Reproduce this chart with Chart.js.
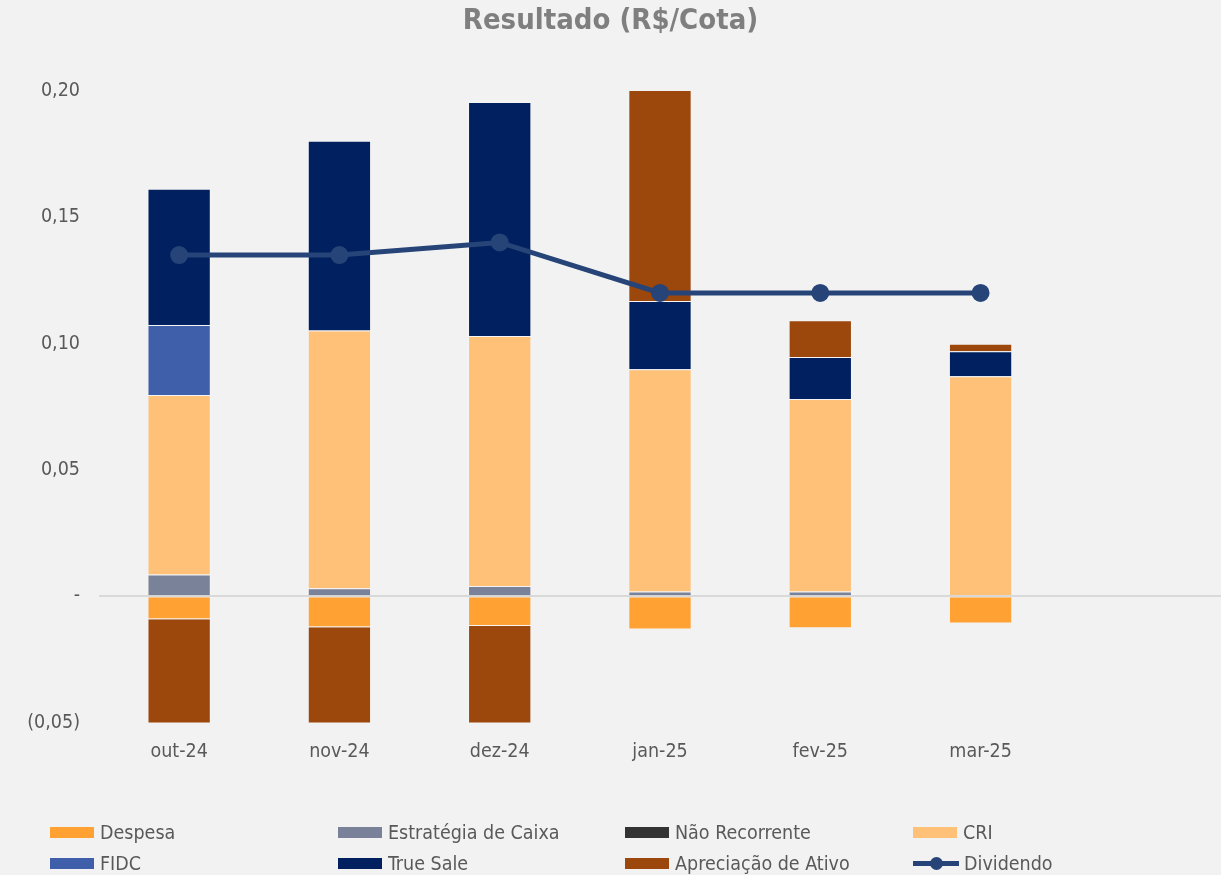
<!DOCTYPE html>
<html>
<head>
<meta charset="utf-8">
<script src="https://cdn.jsdelivr.net/npm/chart.js@4/dist/chart.umd.min.js"></script>
<style>
  body { margin: 0; background: #F2F2F2; }
  #box { position: relative; width: 1221px; height: 875px; }
  .leg { position: absolute; display: flex; align-items: center; font-family: "DejaVu Sans Condensed", "Liberation Sans Narrow", sans-serif; font-size: 19.5px; color: #595959; white-space: nowrap; }
  .sw { width: 44px; height: 11px; margin-right: 6px; }
  .ln { position: relative; width: 46px; height: 5px; margin-right: 5px; }
  .ln i { position: absolute; left: 17px; top: -4px; width: 13px; height: 13px; border-radius: 50%; }
</style>
</head>
<body>
<div id="box">
  <canvas id="grafico" width="1221" height="875"></canvas>
  <div id="legenda"></div>
</div>
<script>
const meses = ['out-24', 'nov-24', 'dez-24', 'jan-25', 'fev-25', 'mar-25', '']

// valores em R$/cota
const despesa = [-0.0091, -0.0123, -0.0118, -0.0132, -0.0127, -0.0108]
const estrategiaCaixa = [0.0086, 0.0032, 0.0041, 0.0019, 0.0019, 0]
const naoRecorrente = [0, 0, 0, 0, 0, 0]
const cri = [0.0710, 0.1020, 0.0989, 0.0879, 0.0761, 0.0870]
const fidc = [0.0277, 0, 0, 0, 0, 0]
const trueSale = [0.0539, 0.0750, 0.0926, 0.0270, 0.0167, 0.0099]
const apreciacao = [-0.0420, -0.0400, -0.0410, 0.0835, 0.0145, 0.0030]
const dividendo = [0.135, 0.135, 0.140, 0.120, 0.120, 0.120]

const fonte = '"DejaVu Sans Condensed", "Liberation Sans Narrow", sans-serif'

function barra(nome, valores, cor) {
  return {
    type: 'bar',
    label: nome,
    data: valores,
    backgroundColor: cor,
    borderColor: 'rgba(255,255,255,0.25)',
    borderWidth: 1,
    categoryPercentage: 0.395,
    barPercentage: 1,
    stack: 'res',
    order: 1,
    clip: 0
  }
}

const datasets = [
  barra('Despesa', despesa, '#FFA133'),
  barra('Estratégia de Caixa', estrategiaCaixa, '#7A8299'),
  barra('Não Recorrente', naoRecorrente, '#333333'),
  barra('CRI', cri, '#FFC177'),
  barra('FIDC', fidc, '#3F5FAA'),
  barra('True Sale', trueSale, '#00205F'),
  barra('Apreciação de Ativo', apreciacao, '#9C470C'),
  {
    type: 'line',
    label: 'Dividendo',
    data: dividendo,
    borderColor: '#264478',
    backgroundColor: '#264478',
    borderWidth: 5,
    pointRadius: 6.5,
    pointHoverRadius: 6.5,
    tension: 0,
    stack: 'div',
    order: 0
  }
]

function fmt(v) {
  if (Math.abs(v) < 1e-9) return '-'
  let s = Math.abs(v).toFixed(2).replace('.', ',')
  return v < 0 ? '(' + s + ')' : s
}

new Chart(document.getElementById('grafico'), {
  data: { labels: meses, datasets: datasets },
  options: {
    responsive: false,
    animation: false,
    layout: { autoPadding: false, padding: { left: 0, right: 0, top: 0, bottom: 101 } },
    plugins: {
      legend: { display: false },
      tooltip: { enabled: false },
      title: {
        display: true,
        text: 'Resultado (R$/Cota)',
        color: '#7F7F7F',
        font: { family: fonte, size: 29, weight: 'bold' },
        padding: { top: 4, bottom: 52 }
      }
    },
    scales: {
      x: {
        stacked: true,
        grid: { display: false },
        border: { display: false },
        ticks: { color: '#595959', font: { family: fonte, size: 19.5 }, padding: 10, maxRotation: 0 }
      },
      y: {
        stacked: true,
        min: -0.05,
        max: 0.2,
        afterFit: s => { s.width = 99 },
        grid: {
          drawTicks: false,
          color: c => c.tick && Math.abs(c.tick.value) < 1e-9 ? '#D9D9D9' : 'rgba(0,0,0,0)',
          lineWidth: 2
        },
        border: { display: false },
        ticks: {
          stepSize: 0.05,
          color: '#595959',
          font: { family: fonte, size: 19.5 },
          padding: 19,
          callback: v => fmt(v)
        }
      }
    }
  }
})

// legenda em 4 colunas como no original
const colunas = [50, 338, 625, 913]
const linhas = [821, 852]
const leg = document.getElementById('legenda')
datasets.forEach((d, i) => {
  let el = document.createElement('div')
  el.className = 'leg'
  el.style.left = colunas[i % 4] + 'px'
  el.style.top = linhas[Math.floor(i / 4)] + 'px'
  let icone
  if (d.type === 'line') {
    icone = '<span class="ln" style="background:' + d.borderColor + '"><i style="background:' + d.borderColor + '"></i></span>'
  } else {
    icone = '<span class="sw" style="background:' + d.backgroundColor + '"></span>'
  }
  el.innerHTML = icone + '<span>' + d.label + '</span>'
  leg.appendChild(el)
})
</script>
</body>
</html>
